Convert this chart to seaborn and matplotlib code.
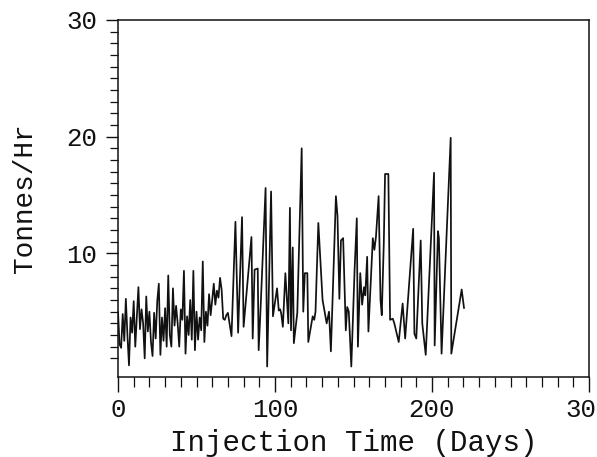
import matplotlib
matplotlib.use("Agg")
import matplotlib.pyplot as plt
import seaborn as sns
import pandas as pd
from matplotlib.ticker import MultipleLocator, FixedLocator

# ---- data ----
days = [
    0, 1, 2, 3, 4, 5, 6, 7, 8, 9, 10, 11, 12, 13, 14, 15, 16, 17, 18, 19,
    20, 21, 22, 23, 24, 25, 26, 27, 28, 29, 30, 31, 32, 33, 34, 35, 36, 37, 38, 39,
    40, 41, 42, 43, 44, 45, 46, 47, 48, 49, 50, 51, 52, 53, 54, 55, 56, 57, 58, 59,
    60, 61, 62, 63, 64, 65, 66, 67, 68, 69, 70,
    72.3, 74.8, 76.5, 79.0, 80.0, 85.0, 85.8, 87.0, 89.0, 89.6, 90.7, 94.0, 95.0,
    97.5, 98.7, 101.3, 102.4, 103.3, 104.0, 105.0, 106.6, 108.5, 109.5, 110.2,
    111.3, 112.0, 114.2, 117.0, 118.0, 119.0, 120.6, 121.2, 124.0, 125.0, 125.8,
    127.6, 130.3, 132.9, 134.4, 135.6, 138.8, 139.8, 141.0, 142.0, 143.4, 145.1,
    146.0, 147.0, 148.6, 150.7, 152.1, 152.8, 154.3, 155.5, 156.7, 157.5, 158.7,
    159.5, 161.0, 162.3, 163.3, 164.3, 166.0, 167.2, 168.0, 169.3, 170.1, 172.2,
    173.3, 175.0, 176.0, 178.8, 181.3, 182.9, 188.0, 188.8, 190.0, 192.8, 193.8,
    196.0, 201.3, 201.7, 203.8, 204.4, 206.1, 211.9, 212.3, 218.9, 220.4,
]
tonnes_per_hr = [
    5.0, 2.2, 1.9, 4.8, 2.5, 6.1, 3.0, 0.4, 4.5, 3.2, 5.9, 2.0, 4.6, 7.1, 3.5, 5.2, 4.0, 1.0, 6.3, 3.3,
    5.0, 2.4, 1.2, 4.9, 2.7, 5.9, 7.4, 1.3, 4.5, 2.5, 5.3, 2.0, 8.1, 3.0, 2.0, 7.0, 3.8, 5.5, 4.0, 2.0,
    5.2, 4.3, 8.5, 1.4, 4.6, 3.0, 6.0, 2.6, 8.5, 1.7, 5.0, 2.6, 4.5, 3.4, 9.3, 2.4, 5.0, 3.8, 6.5, 4.7,
    6.0, 7.4, 5.6, 6.8, 6.2, 7.9, 6.9, 4.4, 4.3, 4.7, 4.9,
    2.9, 12.7, 3.2, 13.1, 3.7, 11.4, 2.7, 8.6, 8.7, 1.7, 4.9, 15.6, 0.3,
    15.3, 4.6, 7.0, 5.1, 5.2, 4.8, 3.7, 8.3, 4.0, 13.9, 3.4,
    10.5, 2.3, 4.9, 19.0, 5.0, 8.3, 8.3, 2.4, 4.6, 4.3, 5.0,
    12.6, 6.0, 4.0, 5.0, 1.6, 14.9, 13.2, 6.1, 11.1, 11.3, 3.4,
    5.4, 5.0, 0.3, 8.6, 13.0, 2.0, 8.3, 5.6, 7.1, 6.4, 9.7,
    3.3, 7.5, 11.3, 10.3, 11.4, 14.9, 6.0, 4.7, 10.9, 16.8, 16.8,
    4.3, 4.4, 4.0, 2.4, 5.7, 2.7, 12.1, 3.1, 2.7, 11.1, 4.0,
    1.3, 16.9, 2.1, 11.9, 11.3, 1.4, 19.9, 1.4, 6.9, 5.3,
]
x_major = [0, 100, 200, 300]
x_labels = ["0", "100", "200", "300"]
y_major = [10, 20, 30]
y_labels = ["10", "20", "30"]

df = pd.DataFrame({"days": days, "tph": tonnes_per_hr})

sns.set_style("ticks")
plt.rcParams["font.family"] = ["Liberation Mono", "DejaVu Sans Mono"]

fig = plt.figure(figsize=(5.97, 4.57), dpi=100)
ax = fig.add_axes([118 / 597, 80 / 457, (589 - 118) / 597, (377 - 20) / 457])

sns.lineplot(data=df, x="days", y="tph", ax=ax, color="#111111",
             linewidth=1.25, sort=False, estimator=None)

ax.set_xlim(0, 300)
ax.set_ylim(-0.6, 30)
ax.xaxis.set_major_locator(FixedLocator(x_major))
ax.set_xticklabels(x_labels)
ax.xaxis.set_minor_locator(MultipleLocator(10))
ax.yaxis.set_major_locator(FixedLocator(y_major))
ax.set_yticklabels(y_labels)
ax.yaxis.set_minor_locator(FixedLocator([v for v in range(0, 30) if v % 10 != 0]))

ax.tick_params(axis="x", which="major", direction="out", length=11, width=1.0,
               labelsize=18.5, pad=4, colors="#111111")
ax.tick_params(axis="x", which="minor", direction="out", length=7, width=0.9,
               colors="#111111")
ax.tick_params(axis="y", which="major", direction="out", length=9, width=1.0,
               labelsize=18.5, pad=6, colors="#111111")
ax.tick_params(axis="y", which="minor", direction="out", length=6, width=0.9,
               colors="#111111")

for s in ax.spines.values():
    s.set_visible(True)
    s.set_linewidth(1.1)
    s.set_color("#111111")

ax.set_xlabel("Injection Time (Days)", fontsize=21, labelpad=5, color="#111111")
ax.set_ylabel("Tonnes/Hr", fontsize=20, labelpad=20, color="#111111")

fig.savefig("out.png", dpi=100, facecolor="white")
